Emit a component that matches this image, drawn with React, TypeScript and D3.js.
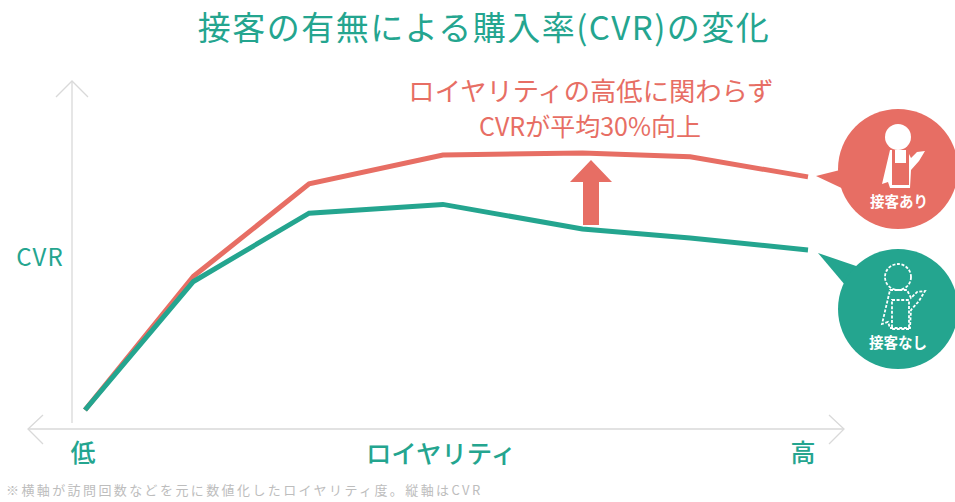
import * as d3 from 'd3';

const loyalty = [0, 15, 31, 49.5, 68.8, 83.7, 100];
const withService = [0, 52, 88, 99.2, 100, 98.5, 90.7];
const withoutService = [0, 50, 76.6, 80, 70.4, 66.9, 62.3];

const WIDTH = 955;
const HEIGHT = 502;
const RED = '#e76e64';
const TEAL = '#24a58f';
const AXIS = '#d9d9d9';
const FONT = '"Noto Sans CJK JP", "Noto Sans", sans-serif';

const x = d3.scaleLinear().domain([0, 100]).range([85, 808]);
const y = d3.scaleLinear().domain([0, 100]).range([410, 153]);

const line = d3
  .line<number>()
  .x((_, i) => x(loyalty[i]))
  .y((d) => y(d));

const BODY = 'M-8,-19 L9,-19 L13,-11 L19,-17 L27,-18 L21,-8 L13,1 L12,19 L-8,19 L-10,13 L-16,15 Z';

function Person({ dashed, color }: { dashed: boolean; color: string }) {
  if (dashed) {
    return (
      <g stroke="#fff" fill="none" strokeWidth={1.8} strokeDasharray="3,1.6">
        <circle cx={0} cy={-32} r={13} />
        <path d={BODY} />
        <rect x={-6} y={-9} width={17} height={29} />
      </g>
    );
  }
  return (
    <g>
      <circle cx={0} cy={-32} r={13} fill="#fff" />
      <path d={BODY} fill="#fff" />
      <rect x={-6} y={-6} width={17} height={22} fill={color} />
      <path d="M-6,-19 L-3,-19 L-3,-6 L-6,-6 Z M8,-19 L11,-19 L11,-6 L8,-6 Z" fill={color} />
    </g>
  );
}

export default function App() {
  return (
    <svg
      width={WIDTH}
      height={HEIGHT}
      style={{ position: 'absolute', left: 0, top: 0, background: '#fff' }}
      fontFamily={FONT}
    >
      <text x={484} y={40} textAnchor="middle" fontSize={33} fontWeight={400} letterSpacing={1.5} fill={TEAL}>
        接客の有無による購入率(CVR)の変化
      </text>

      {/* Axes */}
      <g fill="none" stroke={AXIS} strokeWidth={1.3}>
        <path d="M72,423 V82" />
        <path d="M56,97 L72,81 L88,97" />
        <path d="M28,429 H843" />
        <path d="M43,415 L28,429 L43,444" />
        <path d="M829,415 L844,429 L829,444" />
      </g>

      <text x={40} y={266} textAnchor="middle" fontSize={24} letterSpacing={1} fontWeight={400} fill={TEAL}>CVR</text>
      <text x={83} y={462} textAnchor="middle" fontSize={25} fontWeight={500} fill={TEAL}>低</text>
      <text x={803} y={462} textAnchor="middle" fontSize={25} fontWeight={500} fill={TEAL}>高</text>
      <text x={441} y={463} textAnchor="middle" fontSize={25.4} fontWeight={500} fill={TEAL}>ロイヤリティ</text>
      <text x={6} y={495} fontSize={13} letterSpacing={2.4} fill="#bdbdbd">
        ※横軸が訪問回数などを元に数値化したロイヤリティ度。縦軸はCVR
      </text>

      {/* Lines */}
      <path d={line(withService) ?? ''} fill="none" stroke={RED} strokeWidth={5} />
      <path d={line(withoutService) ?? ''} fill="none" stroke={TEAL} strokeWidth={5} />

      {/* Annotation */}
      <text x={591} y={101} textAnchor="middle" fontSize={26.3} fontWeight={400} fill={RED}>
        ロイヤリティの高低に関わらず
      </text>
      <text x={590} y={136} textAnchor="middle" fontSize={25} fill={RED}>
        CVRが平均30%向上
      </text>
      <path d="M591,160 L612,182 L599,182 L599,225 L583,225 L583,182 L570,182 Z" fill={RED} />

      {/* Red bubble */}
      <g>
        <path d="M816,176 L848,168 L850,192 Z" fill={RED} />
        <circle cx={898} cy={169} r={60} fill={RED} />
        <g transform="translate(898,169)">
          <Person dashed={false} color={RED} />
        </g>
        <text x={899} y={207} textAnchor="middle" fontSize={14.5} fontWeight={700} fill="#fff">接客あり</text>
      </g>

      {/* Teal bubble */}
      <g>
        <path d="M818,253 L862,268 L845,285 Z" fill={TEAL} />
        <circle cx={898} cy={309} r={60} fill={TEAL} />
        <g transform="translate(898,309)">
          <Person dashed color={TEAL} />
        </g>
        <text x={898} y={348} textAnchor="middle" fontSize={14.5} fontWeight={700} fill="#fff">接客なし</text>
      </g>
    </svg>
  );
}
